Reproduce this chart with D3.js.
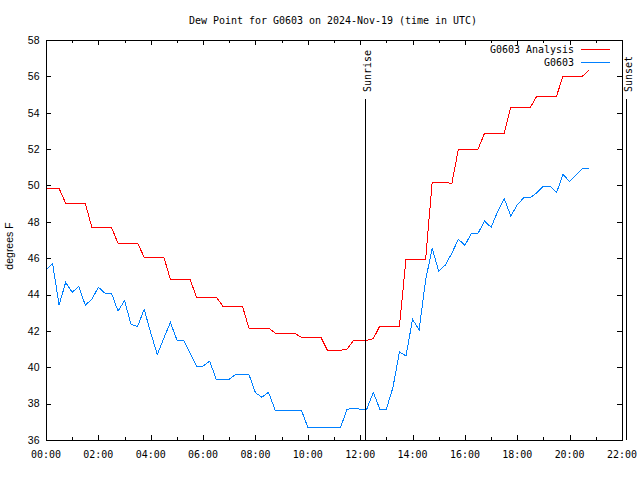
<!DOCTYPE html>
<html><head><meta charset="utf-8">
<script src="https://cdn.jsdelivr.net/npm/d3@7/dist/d3.min.js"></script>
<style>body{margin:0;background:#fff}</style>
</head><body><svg id="c" width="640" height="480"></svg>
<script>
const title = "Dew Point for G0603 on 2024-Nov-19 (time in UTC)";
const yLabel = "degrees F";
const seriesNames = ["G0603 Analysis", "G0603"];
const seriesColors = ["#ff0000", "#0080ff"];
const xTickLabels = ["00:00","02:00","04:00","06:00","08:00","10:00","12:00","14:00","16:00","18:00","20:00","22:00"];
const yTicks = [36,38,40,42,44,46,48,50,52,54,56,58];
const sunEvents = [{name:"Sunrise", t:"12:12"}, {name:"Sunset", t:"22:09"}];

const times = [
"00:00","00:15","00:30","00:45","01:00","01:15","01:30","01:45",
"02:00","02:15","02:30","02:45","03:00","03:15","03:30","03:45",
"04:00","04:15","04:30","04:45","05:00","05:15","05:30","05:45",
"06:00","06:15","06:30","06:45","07:00","07:15","07:30","07:45",
"08:00","08:15","08:30","08:45","09:00","09:15","09:30","09:45",
"10:00","10:15","10:30","10:45","11:00","11:15","11:30","11:45",
"12:00","12:15","12:30","12:45","13:00","13:15","13:30","13:45",
"14:00","14:15","14:30","14:45","15:00","15:15","15:30","15:45",
"16:00","16:15","16:30","16:45","17:00","17:15","17:30","17:45",
"18:00","18:15","18:30","18:45","19:00","19:15","19:30","19:45",
"20:00","20:15","20:30","20:45"];

const analysis = [
49.84,49.84,49.84,49.02, 49.02,49.02,49.02,47.70,
47.70,47.70,47.70,46.82, 46.82,46.82,46.82,46.06,
46.06,46.06,46.06,44.84, 44.84,44.84,44.84,43.86,
43.86,43.86,43.86,43.37, 43.37,43.37,43.37,42.16,
42.16,42.16,42.16,41.88, 41.88,41.88,41.86,41.65,
41.65,41.65,41.65,40.93, 40.93,40.93,41.00,41.48,
41.48,41.48,41.57,42.27, 42.27,42.27,42.27,45.95,
45.95,45.95,45.95,50.17, 50.17,50.17,50.10,51.99,
51.99,51.99,51.99,52.87, 52.87,52.87,52.87,54.30,
54.30,54.30,54.30,54.92, 54.92,54.92,54.92,56.02,
56.02,56.02,56.02,56.35];

const observed = [
45.35,45.72,43.42,44.67, 44.12,44.45,43.42,43.74,
44.40,44.08,44.08,43.09, 43.66,42.35,42.25,43.19,
41.90,40.70,41.60,42.47, 41.50,41.50,40.80,40.07,
40.07,40.34,39.35,39.35, 39.35,39.61,39.61,39.61,
38.60,38.35,38.62,37.65, 37.65,37.65,37.65,37.65,
36.70,36.70,36.70,36.70, 36.70,36.70,37.69,37.75,
37.69,37.69,38.62,37.70, 37.70,38.88,40.85,40.62,
42.64,42.05,44.80,46.54, 45.29,45.62,46.27,47.04,
46.71,47.37,47.37,48.04, 47.70,48.56,49.29,48.32,
48.93,49.33,49.33,49.60, 49.97,49.97,49.60,50.61,
50.21,50.57,50.94,50.94];

const parse = s => { const [h,m] = s.split(":").map(Number); return new Date(Date.UTC(2024,10,19,h,m)); };
const L = 46, R = 622, T = 40, B = 440;
const x = d3.scaleUtc().domain([parse("00:00"), parse("22:00")]).range([L, R]);
const y = d3.scaleLinear().domain([36, 58]).range([B, T]);
const mono = "'DejaVu Sans Mono', monospace";
const sans = "'Liberation Sans', Arial, sans-serif";

const svg = d3.select("#c");
svg.append("rect").attr("width",640).attr("height",480).attr("fill","#fff");

const major = xTickLabels.map(parse);
const minor = d3.utcHour.range(parse("00:00"), parse("22:00"), 1).filter(d => d.getUTCHours() % 2 === 1);
const g = svg.append("g").attr("shape-rendering","crispEdges").attr("stroke","#000");
major.forEach(d => {
  g.append("line").attr("x1",Math.round(x(d))).attr("x2",Math.round(x(d))).attr("y1",B).attr("y2",B-5);
  g.append("line").attr("x1",Math.round(x(d))).attr("x2",Math.round(x(d))).attr("y1",T).attr("y2",T+5);
});
minor.forEach(d => {
  g.append("line").attr("x1",Math.round(x(d))).attr("x2",Math.round(x(d))).attr("y1",B).attr("y2",B-3);
  g.append("line").attr("x1",Math.round(x(d))).attr("x2",Math.round(x(d))).attr("y1",T).attr("y2",T+3);
});
yTicks.forEach(v => {
  g.append("line").attr("x1",L).attr("x2",L+5).attr("y1",Math.round(y(v))).attr("y2",Math.round(y(v)));
  g.append("line").attr("x1",R).attr("x2",R-5).attr("y1",Math.round(y(v))).attr("y2",Math.round(y(v)));
});

svg.append("g").selectAll("text").data(xTickLabels).join("text")
  .attr("x", d => x(parse(d))).attr("y", 458)
  .attr("text-anchor","middle").attr("font-family",mono).attr("font-size",11)
  .attr("textLength", d => d.length*6).attr("lengthAdjust","spacingAndGlyphs")
  .text(d => d);

svg.append("g").selectAll("text").data(yTicks).join("text")
  .attr("x", 39.5).attr("y", d => y(d) + 3.8)
  .attr("text-anchor","end").attr("font-family",sans).attr("font-size",10.5)
  .text(d => d);

svg.append("text").attr("transform","translate(13,246) rotate(-90)")
  .attr("text-anchor","middle").attr("font-family",sans).attr("font-size",10.5).text(yLabel);

svg.append("text").attr("x",333).attr("y",24).attr("text-anchor","middle")
  .attr("font-family",mono).attr("font-size",11)
  .attr("textLength", title.length*6).attr("lengthAdjust","spacingAndGlyphs").text(title);

const line = d3.line().x(d => x(parse(d.t))).y(d => y(d.v));
[analysis, observed].forEach((vals, i) => {
  const data = times.map((t, k) => ({t, v: vals[k]}));
  svg.append("path").datum(data).attr("d", line)
    .attr("fill","none").attr("stroke",seriesColors[i]).attr("stroke-width",1)
    .attr("shape-rendering","crispEdges");
});

sunEvents.forEach(e => {
  const xx = Math.round(x(parse(e.t)));
  svg.append("line").attr("x1",xx).attr("x2",xx).attr("y1",99).attr("y2",B)
    .attr("stroke","#000").attr("shape-rendering","crispEdges");
  svg.append("text").attr("transform",`translate(${xx+5.5},92) rotate(-90)`)
    .attr("font-family",mono).attr("font-size",11)
    .attr("textLength", e.name.length*6).attr("lengthAdjust","spacingAndGlyphs")
    .text(e.name);
});

svg.append("rect").attr("x",L).attr("y",T).attr("width",R-L).attr("height",B-T)
  .attr("fill","none").attr("stroke","#000").attr("shape-rendering","crispEdges");

seriesNames.forEach((n, i) => {
  const ly = 49 + i*13;
  svg.append("text").attr("x",574).attr("y",ly+4).attr("text-anchor","end")
    .attr("font-family",mono).attr("font-size",11)
    .attr("textLength", n.length*6).attr("lengthAdjust","spacingAndGlyphs").text(n);
  svg.append("line").attr("x1",581).attr("x2",610).attr("y1",ly).attr("y2",ly)
    .attr("stroke",seriesColors[i]).attr("shape-rendering","crispEdges");
});
</script></body></html>
